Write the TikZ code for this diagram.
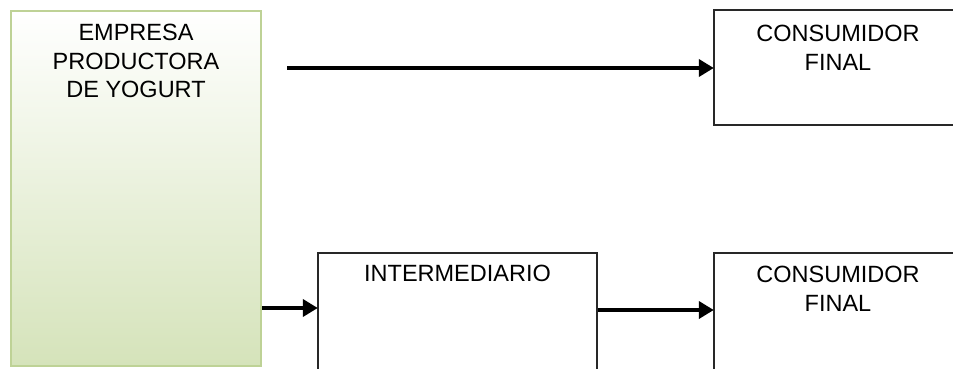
\documentclass[tikz,border=0pt]{standalone}
\usepackage{fontspec}
\setmainfont{Liberation Sans}
\usetikzlibrary{arrows.meta}
\definecolor{leafline}{RGB}{190,210,150}
\definecolor{leaffill}{RGB}{213,227,186}
\definecolor{boxline}{RGB}{40,40,40}
\tikzset{
  caption/.style={font=\fontsize{23.5}{28.5}\selectfont, align=center, inner sep=0pt, anchor=north},
  plainbox/.style={draw=boxline, line width=1.4pt, fill=white, rectangle, inner sep=0pt},
  producer/.style={draw=leafline, line width=2pt, rectangle, inner sep=0pt,
    top color=white, bottom color=leaffill, middle color=leaffill!50},
  flow/.style={line width=4pt, -{Triangle[length=15pt,width=17pt]}, shorten >=-0.5pt}
}
\begin{document}
\begin{tikzpicture}[x=1pt, y=-1pt]
  \useasboundingbox (0,0) rectangle (953,368);
  \clip (0,0) rectangle (953,368);

  % producer block
  \node[producer, minimum width=250pt, minimum height=355pt,
        label={[caption, yshift=-14pt]north:{EMPRESA\\PRODUCTORA\\DE YOGURT}}]
        (prod) at (136,188.5) {};

  % direct channel consumer
  \node[plainbox, minimum width=260pt, minimum height=115pt,
        label={[caption, yshift=-16pt, xshift=-6pt]north:{CONSUMIDOR\\FINAL}}]
        (cons1) at (844,67.5) {};

  % intermediary
  \node[plainbox, minimum width=279pt, minimum height=130pt,
        label={[caption, yshift=-13pt]north:{INTERMEDIARIO}}]
        (inter) at (457.5,318) {};

  % indirect channel consumer
  \node[plainbox, minimum width=260pt, minimum height=130pt,
        label={[caption, yshift=-14pt, xshift=-6pt]north:{CONSUMIDOR\\FINAL}}]
        (cons2) at (844,318) {};

  % connectors
  \coordinate (s1) at (287,68);
  \draw[flow] (s1) -- (s1 -| cons1.west);
  \coordinate (s2) at (261,308);
  \draw[flow] (s2 -| prod.east) -- (s2 -| inter.west);
  \coordinate (s3) at (597,310);
  \draw[flow] (s3 -| inter.east) -- (s3 -| cons2.west);
\end{tikzpicture}
\end{document}
